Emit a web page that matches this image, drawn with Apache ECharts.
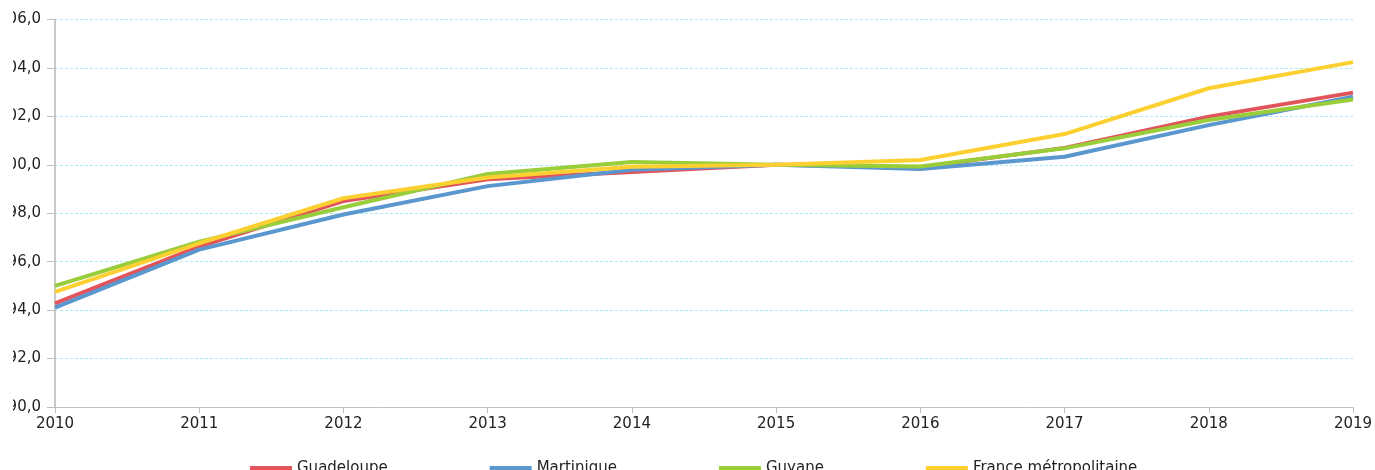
<!DOCTYPE html>
<html>
<head>
<meta charset="utf-8">
<script src="https://cdn.jsdelivr.net/npm/echarts@6/dist/echarts.min.js"></script>
<style>html,body{margin:0;padding:0;background:#fff}#c{width:1375px;height:470px}</style>
</head>
<body>
<div id="c"></div>
<script>
const years = ['2010','2011','2012','2013','2014','2015','2016','2017','2018','2019'];
const seriesNames = ['Guadeloupe','Martinique','Guyane','France métropolitaine'];
const guadeloupe = [94.28, 96.62, 98.5, 99.4, 99.7, 100.0, 99.9, 100.7, 101.99, 102.98];
const martinique = [94.1, 96.5, 97.95, 99.12, 99.8, 100.0, 99.83, 100.33, 101.64, 102.81];
const guyane = [95.0, 96.83, 98.25, 99.62, 100.12, 100.0, 99.93, 100.68, 101.85, 102.7];
const france = [94.75, 96.76, 98.62, 99.48, 99.92, 100.0, 100.2, 101.27, 103.16, 104.24];
const yTicks = [90, 92, 94, 96, 98, 100, 102, 104, 106];
const colors = ['#E2545B', '#5B97CF', '#9ACD3A', '#FDD031'];

const values = [guadeloupe, martinique, guyane, france];
const chart = echarts.init(document.getElementById('c'), null, {renderer: 'canvas'});
const font = '"DejaVu Sans", sans-serif';
chart.setOption({
  animation: false,
  color: colors,
  grid: {left: 55, right: 22, top: 19.5, bottom: 63, containLabel: false, outerBoundsMode: 'none'},
  legend: {
    data: seriesNames,
    left: 245, top: 456,
    icon: 'rect', itemWidth: 42, itemHeight: 5, itemGap: 102,
    textStyle: {fontFamily: font, fontSize: 15, color: '#222'}
  },
  graphic: [{
    type: 'rect', left: 0, top: 0, z: 100, silent: true,
    shape: {x: 0, y: 0, width: 13, height: 420},
    style: {fill: '#ffffff'}
  }],
  xAxis: {
    type: 'category', data: years, boundaryGap: false,
    axisLine: {lineStyle: {color: '#bfbfbf', width: 1}},
    axisTick: {show: true, length: 6, lineStyle: {color: '#bfbfbf'}},
    axisLabel: {fontFamily: font, fontSize: 15, color: '#222', margin: 10},
    splitLine: {show: false}
  },
  yAxis: {
    type: 'value', min: yTicks[0], max: yTicks[yTicks.length-1], interval: 2,
    axisLine: {show: true, lineStyle: {color: '#c8c8c8', width: 2}},
    axisTick: {show: true, length: 8, lineStyle: {color: '#bfbfbf'}},
    axisLabel: {
      fontFamily: font, fontSize: 15, color: '#222', margin: 14,
      formatter: v => v.toFixed(1).replace('.', ',')
    },
    splitLine: {show: true, lineStyle: {color: '#a8ecf7', type: [3, 2], width: 1}}
  },
  series: seriesNames.map((n, i) => ({
    name: n, type: 'line', data: values[i], showSymbol: false, smooth: false,
    lineStyle: {width: 4, color: colors[i]}, itemStyle: {color: colors[i]}
  }))
});
</script>
</body>
</html>
